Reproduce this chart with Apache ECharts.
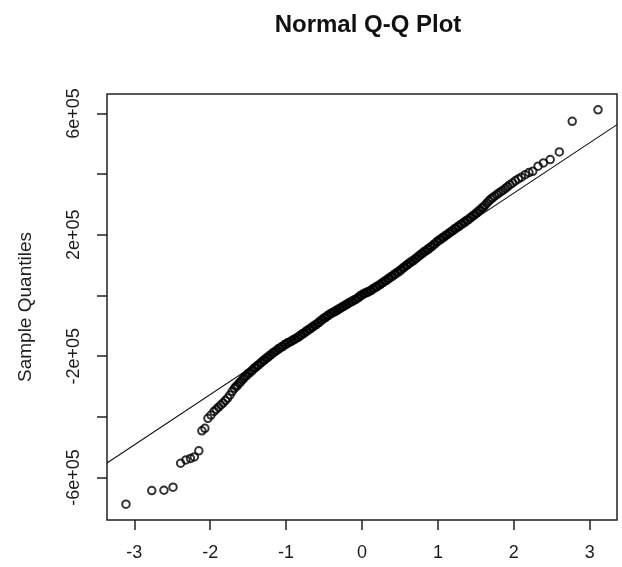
<!DOCTYPE html>
<html>
<head>
<meta charset="utf-8">
<script src="https://cdn.jsdelivr.net/npm/echarts@6/dist/echarts.min.js"></script>
<style>
  html, body { margin: 0; padding: 0; background: #ffffff; }
  #chart { width: 622px; height: 567px; }
</style>
</head>
<body>
<div id="chart"></div>
<script>
// Axis ticks and labels
const xTicks = [-3, -2, -1, 0, 1, 2, 3];
const yTicks = [-600000, -400000, -200000, 0, 200000, 400000, 600000];
const yLabelValues = [-600000, -200000, 200000, 600000];
const yLabelText = ['-6e+05', '-2e+05', '2e+05', '6e+05'];

// [theoretical quantile, sample quantile] pairs, lower tail
const lowerTail = [
  [-3.11, -688e3], [-2.77, -643e3], [-2.61, -642e3], [-2.49, -632e3],
  [-2.39, -553e3], [-2.32, -542e3], [-2.26, -537e3], [-2.21, -532e3],
  [-2.15, -512e3], [-2.11, -446e3], [-2.07, -438e3], [-2.03, -405e3],
  [-1.99, -394e3], [-1.95, -382e3], [-1.92, -375e3], [-1.89, -368e3],
  [-1.86, -361e3], [-1.83, -354e3], [-1.80, -346e3], [-1.77, -338e3],
  [-1.74, -328e3], [-1.71, -316e3], [-1.68, -306e3]
];

// dense central band
const band = [
  [-1.66, -300e3], [-1.64, -296e3], [-1.62, -289e3], [-1.60, -285e3], [-1.58, -278e3],
  [-1.56, -274e3], [-1.54, -267e3], [-1.52, -264e3], [-1.50, -257e3], [-1.48, -255e3],
  [-1.46, -249e3], [-1.44, -246e3], [-1.42, -239e3], [-1.40, -237e3], [-1.38, -231e3],
  [-1.36, -229e3], [-1.34, -223e3], [-1.32, -220e3], [-1.30, -214e3], [-1.28, -212e3],
  [-1.26, -206e3], [-1.24, -204e3], [-1.22, -198e3], [-1.20, -196e3], [-1.18, -190e3],
  [-1.16, -188e3], [-1.14, -183e3], [-1.12, -181e3], [-1.10, -175e3], [-1.08, -174e3],
  [-1.06, -169e3], [-1.04, -168e3], [-1.02, -162e3], [-1.00, -161e3], [-0.98, -156e3],
  [-0.96, -155e3], [-0.94, -151e3], [-0.92, -150e3], [-0.90, -145e3], [-0.88, -144e3],
  [-0.86, -139e3], [-0.84, -138e3], [-0.82, -132e3], [-0.80, -131e3], [-0.78, -125e3],
  [-0.76, -124e3], [-0.74, -118e3], [-0.72, -117e3], [-0.70, -111e3], [-0.68, -110e3],
  [-0.66, -104e3], [-0.64, -103e3], [-0.62, -97e3], [-0.60, -96e3], [-0.58, -90e3],
  [-0.56, -88e3], [-0.54, -82e3], [-0.52, -80e3], [-0.50, -74e3], [-0.48, -73e3],
  [-0.46, -67e3], [-0.44, -66e3], [-0.42, -60e3], [-0.40, -59e3], [-0.38, -55e3],
  [-0.36, -54e3], [-0.34, -49e3], [-0.32, -48e3], [-0.30, -43e3], [-0.28, -42e3],
  [-0.26, -37e3], [-0.24, -36e3], [-0.22, -31e3], [-0.20, -30e3], [-0.18, -25e3],
  [-0.16, -24e3], [-0.14, -19e3], [-0.12, -19e3], [-0.10, -14e3], [-0.08, -13e3],
  [-0.06, -8e3], [-0.04, -6e3], [-0.02, 0e3], [0.00, 1e3], [0.02, 6e3],
  [0.04, 7e3], [0.06, 11e3], [0.08, 11e3], [0.10, 15e3], [0.12, 16e3],
  [0.14, 22e3], [0.16, 23e3], [0.18, 28e3], [0.20, 29e3], [0.22, 34e3],
  [0.24, 36e3], [0.26, 41e3], [0.28, 43e3], [0.30, 48e3], [0.32, 49e3],
  [0.34, 55e3], [0.36, 56e3], [0.38, 62e3], [0.40, 63e3], [0.42, 69e3],
  [0.44, 70e3], [0.46, 76e3], [0.48, 77e3], [0.50, 83e3], [0.52, 85e3],
  [0.54, 91e3], [0.56, 93e3], [0.58, 99e3], [0.60, 101e3], [0.62, 107e3],
  [0.64, 108e3], [0.66, 114e3], [0.68, 115e3], [0.70, 121e3], [0.72, 123e3],
  [0.74, 129e3], [0.76, 131e3], [0.78, 137e3], [0.80, 139e3], [0.82, 145e3],
  [0.84, 146e3], [0.86, 152e3], [0.88, 153e3], [0.90, 159e3], [0.92, 161e3],
  [0.94, 167e3], [0.96, 170e3], [0.98, 176e3], [1.00, 178e3], [1.02, 184e3],
  [1.04, 185e3], [1.06, 191e3], [1.08, 192e3], [1.10, 198e3], [1.12, 200e3],
  [1.14, 205e3], [1.16, 207e3], [1.18, 212e3], [1.20, 214e3], [1.22, 220e3],
  [1.24, 221e3], [1.26, 227e3], [1.28, 228e3], [1.30, 234e3], [1.32, 235e3],
  [1.34, 241e3], [1.36, 242e3], [1.38, 248e3], [1.40, 249e3], [1.42, 255e3],
  [1.44, 257e3], [1.46, 263e3], [1.48, 265e3], [1.50, 271e3], [1.52, 273e3],
  [1.54, 280e3], [1.56, 282e3], [1.58, 289e3], [1.60, 291e3]
];

// upper tail
const upperTail = [
  [1.62, 297e3], [1.645, 304e3], [1.67, 311e3], [1.695, 317e3], [1.72, 322e3],
  [1.745, 327e3], [1.775, 332e3], [1.80, 337e3], [1.83, 342e3], [1.86, 347e3],
  [1.89, 353e3], [1.92, 359e3], [1.95, 365e3], [1.985, 371e3], [2.02, 378e3],
  [2.06, 384e3], [2.10, 390e3], [2.15, 398e3], [2.20, 405e3], [2.25, 409e3],
  [2.32, 426e3], [2.39, 437e3], [2.48, 448e3], [2.60, 473e3], [2.77, 574e3],
  [3.11, 612e3]
];

// reference line through the quartiles
const qqLine = [[-3.36, -552e3], [3.36, 563e3]];

const points = lowerTail.concat(band, upperTail);

const chart = echarts.init(document.getElementById('chart'), null, { renderer: 'canvas' });

const textColor = '#1c1c1c';
const fontFamily = '"Liberation Sans", Arial, sans-serif';

chart.setOption({
  animation: false,
  backgroundColor: '#ffffff',
  title: {
    text: 'Normal Q-Q Plot',
    left: 363,
    top: 8,
    textAlign: 'center',
    textStyle: { fontFamily: fontFamily, fontWeight: 'bold', fontSize: 24, color: '#111' }
  },
  grid: {
    left: 107, right: 5, top: 94, bottom: 47,
    show: true, borderColor: '#222', borderWidth: 1.5, backgroundColor: 'transparent'
  },
  xAxis: {
    type: 'value',
    min: -3.36, max: 3.36,
    axisLine: { show: false, onZero: false },
    splitLine: { show: false },
    axisTick: {
      show: true, inside: false, length: 10,
      customValues: xTicks,
      lineStyle: { color: '#222', width: 1.5 }
    },
    axisLabel: {
      customValues: xTicks,
      margin: 24,
      fontFamily: fontFamily, fontSize: 18, color: textColor,
      formatter: v => String(v)
    }
  },
  yAxis: {
    type: 'value',
    min: -740000, max: 664000,
    name: 'Sample Quantiles',
    nameLocation: 'middle',
    nameRotate: 90,
    nameGap: 72,
    nameTextStyle: { fontFamily: fontFamily, fontSize: 19, color: textColor },
    axisLine: { show: false, onZero: false },
    splitLine: { show: false },
    axisTick: {
      show: true, inside: false, length: 10,
      customValues: yTicks,
      lineStyle: { color: '#222', width: 1.5 }
    },
    axisLabel: {
      customValues: yLabelValues,
      rotate: 90,
      margin: 24,
      fontFamily: fontFamily, fontSize: 18, color: textColor,
      formatter: v => {
        const i = yLabelValues.indexOf(v);
        return i >= 0 ? yLabelText[i] : '';
      }
    }
  },
  series: [
    {
      type: 'line',
      data: qqLine,
      symbol: 'none',
      silent: true,
      clip: true,
      lineStyle: { color: '#111', width: 1.1 },
      z: 1
    },
    {
      type: 'scatter',
      data: points,
      symbol: 'circle',
      symbolSize: 7.5,
      silent: true,
      itemStyle: { color: 'rgba(0,0,0,0)', borderColor: '#000', borderWidth: 2 },
      z: 2
    }
  ]
});
</script>
</body>
</html>
